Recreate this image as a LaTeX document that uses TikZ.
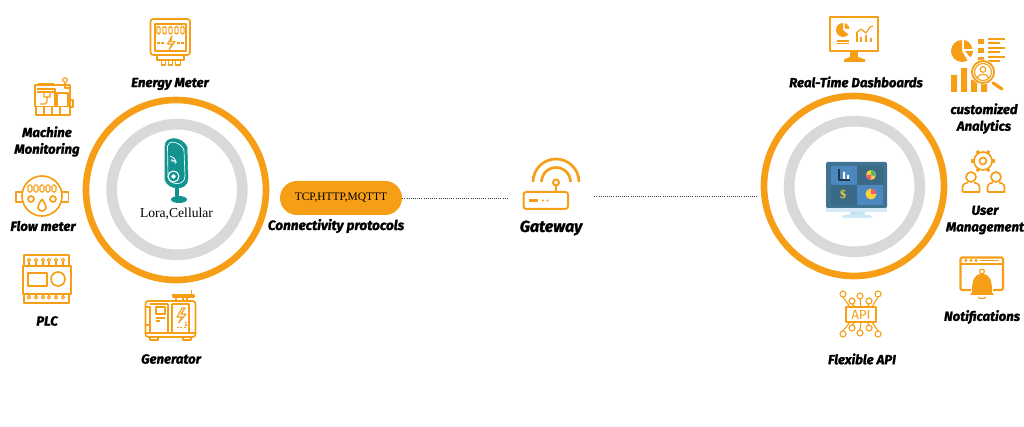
\documentclass[tikz,border=0pt]{standalone}
\usepackage{fontspec}
\setmainfont{Liberation Serif}
\newfontfamily\labelfont[BoldItalicFeatures={FakeBold=1.6}]{Fira Sans}
\usetikzlibrary{positioning}
\definecolor{iotOrange}{HTML}{F59E16}
\definecolor{iotGrey}{HTML}{D9D9D9}
\definecolor{iotTeal}{HTML}{12938F}
\definecolor{iotFrame}{HTML}{3F7391}
\definecolor{iotPanel}{HTML}{4A88BF}
\definecolor{iotGlass}{HTML}{C4E2F2}
\definecolor{iotYellow}{HTML}{FAD23C}
\definecolor{iotPink}{HTML}{EE5A78}
\definecolor{iotGreen}{HTML}{5DB56B}
\tikzset{
  iotfig/.style={x=0.75pt, y=-0.75pt, line join=round},
  outerring/.style={circle, draw=iotOrange, line width=5pt, minimum size=135pt, inner sep=0pt},
  innerring/.style={circle, draw=iotGrey, line width=8pt, minimum size=98pt, inner sep=0pt},
  tag/.style={font=\labelfont\bfseries\itshape\fontsize{9.9}{12.5}\selectfont, align=center, inner sep=0pt},
  pilltext/.style={font=\fontsize{8.6}{10}\selectfont, inner sep=0pt},
  pill/.style={rounded corners=12.7pt, fill=iotOrange, minimum width=91.5pt, minimum height=25.5pt, inner sep=0pt, pilltext},
  link/.style={draw=black!75, line width=0.6pt, densely dotted},
  icon/.style={draw=iotOrange, line width=1.25pt, fill=none},
  thinicon/.style={icon, line width=0.85pt},
  iconfill/.style={fill=iotOrange, draw=none},
  gatewaybox/.style={minimum width=64.5pt, minimum height=36pt, inner sep=0pt},
}
\begin{document}
\begin{tikzpicture}[iotfig]
  \useasboundingbox (0,0) rectangle (1024,427);
  % rings
  \node[outerring] (LeftRing) at (176,190) {};
  \node[innerring] (LeftInner) at (177,189.5) {};
  \node[outerring] (RightRing) at (854,186) {};
  \node[innerring] (RightInner) at (854.5,186.5) {};
  % centre row
  \node[pill] (Protocols) at (341,198) {TCP,HTTP,MQTTT};
  \node[gatewaybox] (GatewayBox) at (551,198) {};
  \coordinate (RightIn) at (758,196);
  \draw[link] (Protocols) -- (GatewayBox);
  \draw[link] (GatewayBox.east |- RightIn) -- (RightIn);
  % labels
  \node[tag] (EnergyMeter) at (170,84) {Energy Meter};
  \node[tag] (MachineMon) at (47,141.5) {Machine\\Monitoring};
  \node[tag] (FlowMeter) at (43,226) {Flow meter};
  \node[tag] (Plc) at (47,321) {PLC};
  \node[tag] (Generator) at (171,359) {Generator};
  \node[font=\fontsize{10.2}{12}\selectfont, inner sep=0pt] (Lora) at (176.5,214) {Lora,Cellular};
  \node[tag, font=\labelfont\bfseries\itshape\fontsize{10.2}{12.5}\selectfont] (Connectivity) at (336,226) {Connectivity protocols};
  \node[tag, font=\labelfont\bfseries\itshape\fontsize{12}{13}\selectfont] (Gateway) at (551,228) {Gateway};
  \node[tag] (Dashboards) at (856,82) {Real-Time Dashboards};
  \node[tag] (Analytics) at (984,118.5) {customized\\Analytics};
  \node[tag] (UserMgmt) at (985,220) {User\\Management};
  \node[tag] (Notifications) at (982,317) {Notifications};
  \node[tag] (FlexApi) at (862,359) {Flexible API};
  % energy meter
  \draw[icon, rounded corners=2pt] (150.5,19) rectangle (190,55);
  \draw[thinicon] (155,24) rectangle (186,51);
  \foreach \x in {158.5,164.5,170.5,176.5,182.5}
    \draw[thinicon, rounded corners=1pt] (\x-1.6,26.5) rectangle (\x+1.6,34);
  \draw[thinicon, dash pattern=on 2pt off 1pt] (157,43) -- (164,43) (177,43) -- (184,43);
  \draw[thinicon] (172,36) -- (167.5,44) -- (172,44) -- (169,49.5) -- (175,41.5) -- (170.5,41.5) -- cycle;
  \draw[icon] (157,55) -- (157,60) -- (184,60) -- (184,55);
  \foreach \x in {163.5,170.5,178}
    \draw[thinicon] (\x-2.2,60) rectangle (\x+2.2,65);
  % machine
  \draw[icon] (35,85) rectangle (70,106.5);
  \draw[thinicon] (38,83.5) -- (54,83.5);
  \draw[thinicon] (37,89) -- (55,89) -- (55,106.5) (37,92) -- (55,92);
  \draw[thinicon] (57,93) rectangle (68,106.5);
  \draw[thinicon] (44,93) -- (44,97) -- (50,97) -- (50,93) (47,97) -- (47,102) (40,104) -- (45,104) -- (47,102);
  \draw[icon] (36,106.5) rectangle (70,115);
  \foreach \x in {44,52,60}
    \draw[thinicon] (\x,106.5) -- (\x,115);
  \draw[thinicon] (65,80) circle (2.3);
  \draw[thinicon] (65,82.5) -- (65,88) -- (70,88);
  \draw[thinicon] (70,100) -- (73,100) -- (73,107) -- (70,107);
  % flow meter
  \draw[icon] (42,196) circle (20);
  \draw[icon] (22,192) -- (16,192) -- (16,202) -- (22,202);
  \draw[icon] (62,192) -- (68.5,192) -- (68.5,202) -- (62,202);
  \foreach \x in {30,36,42,48,54}
    \draw[thinicon, rounded corners=1pt] (\x-2,185) rectangle (\x+2,192);
  \draw[icon] (31,199) circle (3) (53,199) circle (3);
  \draw[icon] (42,199) .. controls (39,204) and (37.5,206) .. (38,208) .. controls (39,212) and (45,212) .. (46,208) .. controls (46.5,206) and (45,204) .. (42,199);
  % PLC
  \draw[icon] (23,266) rectangle (71,294);
  \draw[icon] (24,255) rectangle (69,266);
  \draw[icon] (24,294) rectangle (69,303);
  \draw[icon] (28,273) rectangle (47,286);
  \draw[icon] (58,279) circle (7);
  \foreach \x in {29,36,43,49,56,63} {
    \draw[thinicon] (\x,260) circle (1.6);
    \draw[thinicon] (\x,262) -- (\x,266);
    \draw[thinicon] (\x,297.5) circle (1.6);
    \draw[thinicon] (\x,294) -- (\x,296);
  }
  % generator
  \draw[icon, rounded corners=2pt] (145.5,301) rectangle (195.5,337);
  \draw[thinicon] (146,333) -- (195,333);
  \draw[thinicon] (150,337) rectangle (158,340) (183,337) rectangle (191,340);
  \draw[thinicon] (168,304) -- (168,333) (172,304) -- (172,333);
  \draw[thinicon] (172,304) -- (189,304) -- (189,333) -- (172,333);
  \draw[thinicon] (150,304) -- (168,304);
  \draw[thinicon] (156,307) rectangle (165,314);
  \draw[thinicon] (156,318) -- (165,318) (156,321) -- (160,321);
  \draw[thinicon] (145,307) -- (150,307) -- (150,333) (145,325) -- (150,325);
  \draw[thinicon] (182,308) -- (177,317) -- (182,317) -- (178.5,323) -- (186,314) -- (181,314) -- (185,308) -- cycle;
  \draw[thinicon, dash pattern=on 1.5pt off 1pt] (177,327.5) -- (186,327.5) -- (186,322);
  \draw[thinicon] (173,295) rectangle (194,297) (176,297) -- (176,301) (183,297) -- (183,301) (187,297) -- (187,301);
  \draw[thinicon] (191.5,295) -- (191.5,290);
  % gateway
  \draw[icon, line width=1.5pt] (556,182.5) circle (3);
  \draw[icon, line width=1.5pt] (556,185.5) -- (556,192);
  \draw[icon, line width=1.5pt, rounded corners=2pt] (523.5,192) rectangle (568,209);
  \draw[icon, line width=1.8pt] (529,200.5) -- (538,200.5);
  \fill[iotOrange] (543,200.5) circle (1.2) (547.5,200.5) circle (1.2);
  \draw[icon, line width=2pt] (570.5,182) arc (0:-180:14.5);
  \draw[icon, line width=2pt] (579,182) arc (0:-180:23);
  % lora sensor
  \draw[iotTeal, fill=iotTeal] (165,146) .. controls (165,136) and (182,136) .. (187,147) -- (188,178) .. controls (188,192) and (168,190) .. (165,180) -- cycle;
  \draw[white, line width=0.5pt] (167.5,146) .. controls (168,140) and (180,141) .. (184,150) -- (185,176) .. controls (185,186) and (170,186) .. (168,177) -- cycle;
  \draw[white, line width=0.6pt] (170,156) arc (-80:-10:8) (171.5,159.5) arc (-80:-10:5);
  \fill[white] (172,161) circle (0.8);
  \draw[white, line width=0.8pt] (173.5,176.5) circle (5.5);
  \fill[white] (173.5,176.5) circle (2.2);
  \fill[iotTeal] (175,186) rectangle (179,198);
  \fill[iotTeal] (179,199.5) ellipse (8 and 3.5);
  % monitor
  \fill[iotFrame, rounded corners=1pt] (826,162) rectangle (887,208);
  \fill[iotPanel] (831,166) rectangle (857,185) (857,185) rectangle (883,205);
  \fill[iotFrame!92!black] (857,166) rectangle (883,185) (831,185) rectangle (857,205);
  \fill[iotGlass!70!white] (826,208) rectangle (887,212);
  \fill[iotGlass] (851,212) -- (864,212) -- (866,216) -- (849,216) -- cycle;
  \fill[iotGlass!80!white, rounded corners=2pt] (842,215) rectangle (872,218);
  \draw[iotFrame!50!black, line width=0.9pt] (839,169) -- (839,180) -- (850,180);
  \fill[white] (843,172) rectangle (845,179) (847,175) rectangle (849,179);
  \fill[iotYellow] (871,175) circle (5);
  \fill[iotGreen] (871,175) -- (871,170) arc (-90:20:5) -- cycle;
  \fill[iotPink] (871,175) -- (866,175) arc (180:120:5) -- (871,180) -- cycle;
  \node[font=\bfseries\fontsize{9}{10}\selectfont, text=iotYellow, inner sep=0pt] (Dollar) at (843,194.5) {\$};
  \fill[iotYellow] (871,194) circle (5.5);
  \fill[iotPink] (871,194) -- (871,188.5) arc (-90:0:5.5) -- cycle;
  % dashboards
  \draw[icon, line width=1.5pt] (830,17.5) rectangle (878,51);
  \fill[iotOrange] (850,51) rectangle (858,59);
  \fill[iotOrange] (844,59.5) -- (850,57) -- (858,57) -- (865,59.5) -- (865,62) -- (844,62) -- cycle;
  \fill[iotOrange] (843,30) -- (843,23) arc (-90:-320:7) -- cycle;
  \fill[iotOrange] (844.5,28.5) -- (844.5,23) arc (-80:0:6) -- cycle;
  \draw[thinicon] (837,41) -- (849,41) (837,43.5) -- (849,43.5);
  \foreach \x/\y in {857/33,861/37,866/35,871/38}
    \draw[icon, line width=1.4pt] (\x,\y) -- (\x,42);
  \draw[icon, line width=0.9pt] (856,33) -- (861,29) -- (866,33) -- (870,27) -- (873,26);
  % analytics
  \fill[iotOrange] (962,51) -- (962,40) arc (-90:-300:11) -- cycle;
  \fill[iotOrange] (964,49) -- (964,40) arc (-80:-5:10) -- cycle;
  \fill[iotOrange] (965,51) -- (973,51) arc (0:45:9) -- cycle;
  \foreach \y in {39,48,57} {
    \fill[iotOrange] (978,\y) rectangle (984,\y+5);
    \draw[thinicon] (988,\y) -- (1005,\y) (988,\y+4) -- (1000,\y+4);
  }
  \fill[iotOrange] (951,75) rectangle (957,92) (961,68) rectangle (967,92) (971,80) rectangle (977,92) (981,83) rectangle (987,92);
  \fill[white] (983,72) circle (12.5);
  \draw[icon, line width=1.4pt] (983,72) circle (11);
  \draw[thinicon] (983,72) circle (8.5);
  \draw[thinicon] (983,69.5) circle (2.8);
  \draw[thinicon] (977.5,78) .. controls (978,73) and (988,73) .. (988.5,78);
  \draw[iotOrange, line width=2.4pt, line cap=round] (993,83) -- (1002,89);
  % user management
  \draw[icon] (983,161) circle (3.5);
  \draw[icon] (983,161) circle (9);
  \foreach \a in {0,60,...,300}
    \draw[icon, line width=2.4pt] (\a:8.8) ++(983,161) -- ++(\a:3);
  \foreach \x in {971,996} {
    \draw[icon] (\x,177) circle (5);
    \draw[icon] (\x-8.5,192) -- (\x-8.5,187) .. controls (\x-8,183.5) and (\x-5,183) .. (\x-3,182.5) (\x+3,182.5) .. controls (\x+5,183) and (\x+8,183.5) .. (\x+8.5,187) -- (\x+8.5,192) -- (\x-8.5,192);
  }
  % notifications
  \draw[icon, line width=1.6pt, rounded corners=1pt] (971,290) -- (960.5,290) -- (960.5,257.5) -- (1003,257.5) -- (1003,290) -- (993,290);
  \draw[thinicon] (960.5,264) -- (1003,264);
  \draw[thinicon] (980,260.5) -- (999,260.5);
  \fill[iotOrange] (966,260.5) circle (1.6) (971,260.5) circle (1.6) (976,260.5) circle (1.6);
  \draw[thinicon] (982,271.5) circle (2.4);
  \fill[iotOrange] (972,292) .. controls (972,280) and (974,274) .. (982,274) .. controls (990,274) and (992,280) .. (992,292) -- (994,295) -- (970,295) -- cycle;
  \draw[thinicon] (978,297) .. controls (979,299) and (985,299) .. (986,297);
  % api
  \draw[icon] (846,307) rectangle (876,322);
  \node[font=\labelfont\fontsize{10}{10}\selectfont, text=iotOrange, inner sep=0pt] (ApiChip) at (861,314.5) {API};
  \foreach \x/\yt/\yb/\xe in {843/294/334/850,852/301/328/855,860/296/333/861,869/301/328/867,878/294/334/872} {
    \draw[thinicon] (\x,\yt) circle (3) (\x,\yb) circle (3);
    \draw[thinicon] (\x,\yt+3) -- (\xe,307) (\x,\yb-3) -- (\xe,322);
  }
\end{tikzpicture}
\end{document}
